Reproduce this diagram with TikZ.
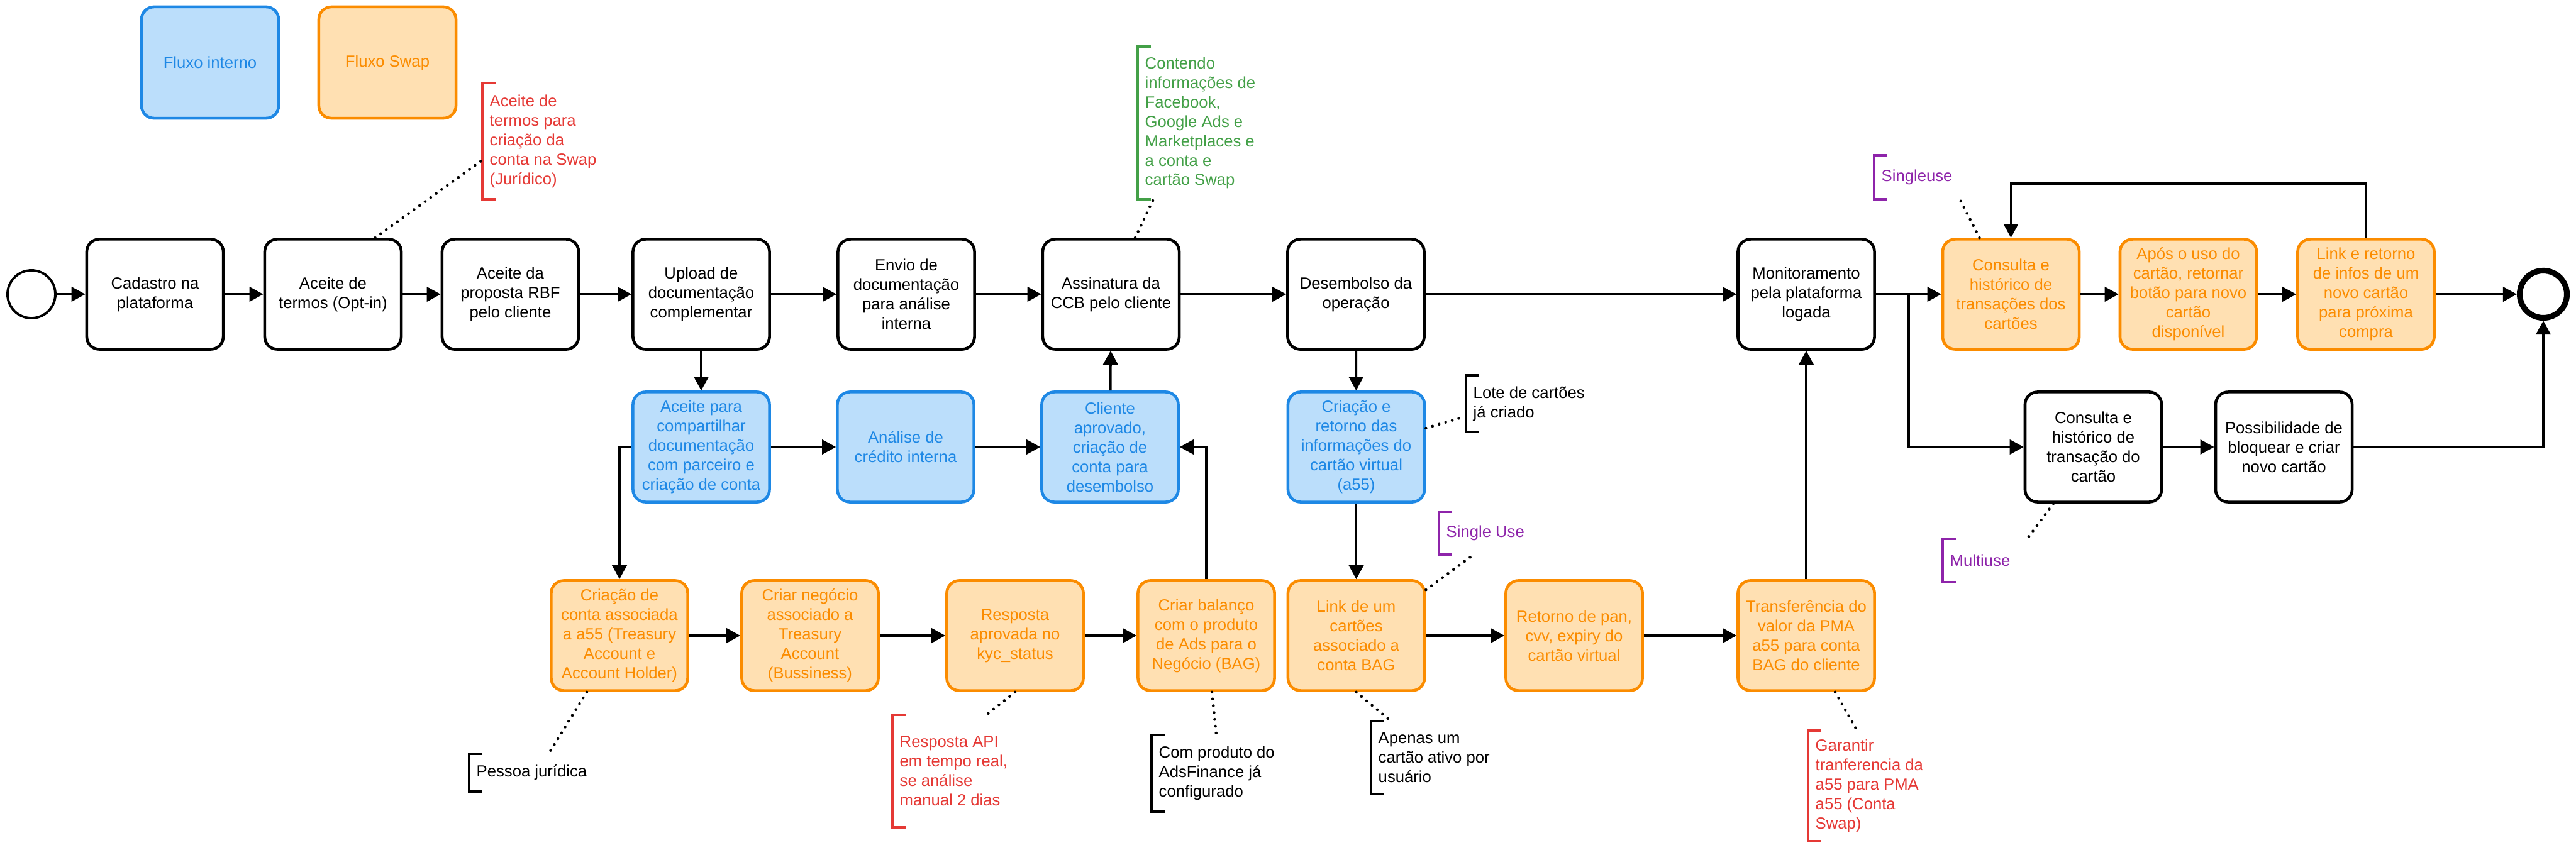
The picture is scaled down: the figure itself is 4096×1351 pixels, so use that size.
\documentclass[tikz,border=0pt]{standalone}
\usepackage{fontspec}
\setmainfont{Liberation Sans}
\usetikzlibrary{arrows.meta}

\definecolor{bluefill}{HTML}{BBDEFB}
\definecolor{bluestroke}{HTML}{1E88E5}
\definecolor{orangefill}{HTML}{FFE0B2}
\definecolor{orangestroke}{HTML}{FB8C00}
\definecolor{notered}{HTML}{E53935}
\definecolor{notegreen}{HTML}{43A047}
\definecolor{notepurple}{HTML}{8E24AA}

% bracket of an annotation, drawn on the west side of its text node
\newcommand{\annobrk}[2]{\draw[#2, line width=1.1pt] ([xshift=0.21cm]#1.north west) -- (#1.north west) -- (#1.south west) -- ([xshift=0.21cm]#1.south west);}

\begin{document}
\begin{tikzpicture}[x=0.01cm, y=-0.01cm,
    every node/.style={font=\fontsize{7.3}{8.8}\selectfont},
    box/.style={draw, rounded corners=0.2cm, line width=1.3pt, minimum width=2.17cm, minimum height=1.75cm, align=center, inner sep=0pt, fill=white},
    blue box/.style={box, draw=bluestroke, fill=bluefill, text=bluestroke},
    swap box/.style={box, draw=orangestroke, fill=orangefill, text=orangestroke},
    flow/.style={line width=1.1pt, -{Triangle[length=0.22cm, width=0.23cm]}},
    assoc/.style={line width=1.3pt, line cap=round, dash pattern=on 0pt off 3.1pt},
    anno/.style={anchor=west, align=left, inner xsep=0.11cm, inner ysep=0pt}]
    \useasboundingbox (0,0) rectangle (4096,1351);

    % legend
    \node[blue box, minimum width=2.18cm, minimum height=1.77cm] (interno) at (334,99.5) {Fluxo interno};
    \node[swap box, minimum width=2.18cm, minimum height=1.77cm] (swap) at (616,99.5) {Fluxo Swap};

    % main row
    \node[circle, draw, line width=1.1pt, minimum size=0.76cm, inner sep=0pt] (inicio) at (50,468) {};
    \node[box] (cadastro) at (246.5,468) {Cadastro na\\plataforma};
    \node[box] (termos) at (529.5,468) {Aceite de\\termos (Opt-in)};
    \node[box] (rbf) at (811.5,468) {Aceite da\\proposta RBF\\pelo cliente};
    \node[box] (upload) at (1115,468) {Upload de\\documentação\\complementar};
    \node[box] (envio) at (1441,468) {Envio de\\documentação\\para análise\\interna};
    \node[box] (ccb) at (1766.5,468) {Assinatura da\\CCB pelo cliente};
    \node[box] (desembolso) at (2156,468) {Desembolso da\\operação};
    \node[box] (monitor) at (2872,468) {Monitoramento\\pela plataforma\\logada};
    \node[swap box] (consulta) at (3197.5,468) {Consulta e\\histórico de\\transações dos\\cartões};
    \node[swap box] (apos) at (3479.5,468) {Após o uso do\\cartão, retornar\\botão para novo\\cartão\\disponível};
    \node[swap box] (novo) at (3762,468) {Link e retorno\\de infos de um\\novo cartão\\para próxima\\compra};
    \node[circle, draw, line width=2.6pt, minimum size=0.75cm, inner sep=0pt] (fim) at (4044,468) {};

    % second row
    \node[blue box] (compart) at (1115,711) {Aceite para\\compartilhar\\documentação\\com parceiro e\\criação de conta};
    \node[blue box] (credito) at (1440,711) {Análise de\\crédito interna};
    \node[blue box] (aprovado) at (1765,711) {Cliente\\aprovado,\\criação de\\conta para\\desembolso};
    \node[blue box] (virtual) at (2156.5,711) {Criação e\\retorno das\\informações do\\cartão virtual\\(a55)};
    \node[box] (transacao) at (3328.5,711) {Consulta e\\histórico de\\transação do\\cartão};
    \node[box] (bloqueio) at (3631.5,711) {Possibilidade de\\bloquear e criar\\novo cartão};

    % third row
    \node[swap box] (conta) at (985,1011) {Criação de\\conta associada\\a a55 (Treasury\\Account e\\Account Holder)};
    \node[swap box] (negocio) at (1288,1011) {Criar negócio\\associado a\\Treasury\\Account\\(Bussiness)};
    \node[swap box] (kyc) at (1614,1011) {Resposta\\aprovada no\\kyc\_status};
    \node[swap box] (balanco) at (1918,1011) {Criar balanço\\com o produto\\de Ads para o\\Negócio (BAG)};
    \node[swap box] (cartoes) at (2156.5,1011) {Link de um\\cartões\\associado a\\conta BAG};
    \node[swap box] (pan) at (2503,1011) {Retorno de pan,\\cvv, expiry do\\cartão virtual};
    \node[swap box] (pma) at (2872,1011) {Transferência do\\valor da PMA\\a55 para conta\\BAG do cliente};

    % annotations
    \node[anno, text=notered, minimum height=1.83cm] (nTermos) at (767,224.5) {Aceite de\\termos para\\criação da\\conta na Swap\\(Jurídico)};
    \node[anno, text=notegreen, minimum height=2.41cm] (nCcb) at (1809,195.5) {Contendo\\informações de\\Facebook,\\Google Ads e\\Marketplaces e\\a conta e\\cartão Swap};
    \node[anno, text=notepurple, minimum height=0.68cm] (nSingle) at (2980,282) {Singleuse};
    \node[anno, minimum height=0.88cm] (nLote) at (2331,642) {Lote de cartões\\já criado};
    \node[anno, text=notepurple, minimum height=0.66cm] (nSingleUse) at (2288,848) {Single Use};
    \node[anno, text=notepurple, minimum height=0.67cm] (nMulti) at (3089,891.5) {Multiuse};
    \node[anno, minimum height=0.58cm] (nPessoa) at (746,1229) {Pessoa jurídica};
    \node[anno, text=notered, minimum height=1.77cm] (nApi) at (1419,1226.5) {Resposta API\\em tempo real,\\se análise\\manual 2 dias};
    \node[anno, minimum height=1.2cm] (nAds) at (1831,1230) {Com produto do\\AdsFinance já\\configurado};
    \node[anno, minimum height=1.14cm] (nAtivo) at (2180,1205) {Apenas um\\cartão ativo por\\usuário};
    \node[anno, text=notered, minimum height=1.74cm] (nGarantir) at (2875,1250) {Garantir\\tranferencia da\\a55 para PMA\\a55 (Conta\\Swap)};
    \annobrk{nTermos}{notered}
    \annobrk{nCcb}{notegreen}
    \annobrk{nSingle}{notepurple}
    \annobrk{nLote}{black}
    \annobrk{nSingleUse}{notepurple}
    \annobrk{nMulti}{notepurple}
    \annobrk{nPessoa}{black}
    \annobrk{nApi}{notered}
    \annobrk{nAds}{black}
    \annobrk{nAtivo}{black}
    \annobrk{nGarantir}{notered}

    % main flow
    \draw[flow] (inicio) -- (cadastro);
    \draw[flow] (cadastro) -- (termos);
    \draw[flow] (termos) -- (rbf);
    \draw[flow] (rbf) -- (upload);
    \draw[flow] (upload) -- (envio);
    \draw[flow] (envio) -- (ccb);
    \draw[flow] (ccb) -- (desembolso);
    \draw[flow] (desembolso) -- (monitor);
    \draw[flow] (monitor) -- (consulta);
    \draw[flow] (consulta) -- (apos);
    \draw[flow] (apos) -- (novo);
    \draw[flow] (novo) -- (fim);
    \draw[flow] (novo.north) -- ++(0,-86) -| (consulta.north);

    % internal flow
    \draw[flow] (upload) -- (compart);
    \draw[flow] (compart) -- (credito);
    \draw[flow] (credito) -- (aprovado);
    \draw[flow] (aprovado) -- (ccb);
    \draw[flow] (desembolso) -- (virtual);
    \draw[flow] (virtual) -- (cartoes);

    % swap flow
    \draw[flow] (compart.west) -| (conta.north);
    \draw[flow] (conta) -- (negocio);
    \draw[flow] (negocio) -- (kyc);
    \draw[flow] (kyc) -- (balanco);
    \draw[flow] (balanco.north) |- (aprovado.east);
    \draw[flow] (cartoes) -- (pan);
    \draw[flow] (pan) -- (pma);
    \draw[flow] (pma) -- (monitor);

    % multiuse branch
    \coordinate (ramo) at (3035,468);
    \draw[flow] (ramo) |- (transacao.west);
    \draw[flow] (transacao) -- (bloqueio);
    \draw[flow] (bloqueio.east) -| (fim.south);

    % associations
    \draw[assoc] ([xshift=0.67cm]termos.north) -- ([yshift=-0.3cm]nTermos.west);
    \draw[assoc] ([xshift=0.385cm]ccb.north) -- ([xshift=0.25cm]nCcb.south west);
    \draw[assoc] ([xshift=-0.5cm]consulta.north) -- (nSingle.south east);
    \draw[assoc] ([yshift=0.3cm]virtual.east) -- ([xshift=-0.07cm,yshift=-0.22cm]nLote.west);
    \draw[assoc] ([yshift=-0.17cm]cartoes.north east) -- ([xshift=-0.18cm]nSingleUse.south);
    \draw[assoc] ([xshift=-0.635cm]transacao.south) -- ([xshift=0.15cm]nMulti.north east);
    \draw[assoc] ([xshift=-0.52cm]conta.south) -- ([xshift=1.26cm]nPessoa.north west);
    \draw[assoc] (kyc.south) -- ([xshift=1.49cm]nApi.north west);
    \draw[assoc] ([xshift=0.09cm]balanco.south) -- ([xshift=1.03cm]nAds.north west);
    \draw[assoc] (cartoes.south) -- ([xshift=0.32cm]nAtivo.north west);
    \draw[assoc] ([xshift=0.46cm]pma.south) -- ([xshift=0.78cm]nGarantir.north west);
\end{tikzpicture}
\end{document}
